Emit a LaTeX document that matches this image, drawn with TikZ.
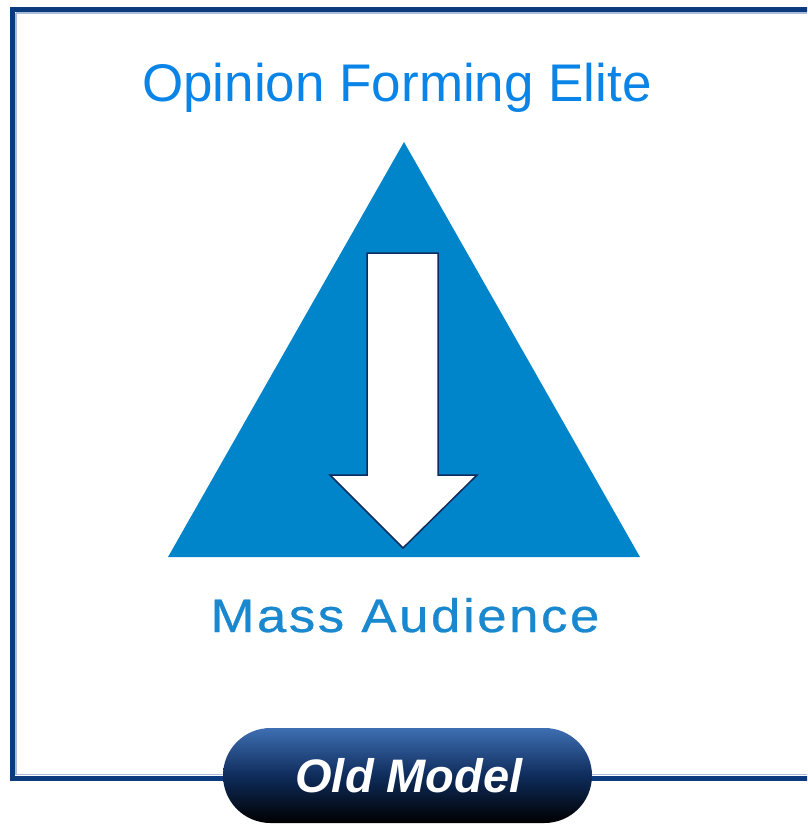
\documentclass[tikz,border=0pt]{standalone}
\usepackage{fontspec}
\setmainfont{Liberation Sans}
\newfontfamily\spacedfont[LetterSpace=5,FakeBold=0.6]{Liberation Sans}
\definecolor{framenavy}{HTML}{0B3B7E}
\definecolor{framelight}{HTML}{A9BCD8}
\definecolor{elitetext}{HTML}{0A84E6}
\definecolor{triblue}{HTML}{0084CA}
\definecolor{masstext}{HTML}{1A88CE}
\definecolor{arrowline}{HTML}{102B5E}
\definecolor{pilltop}{HTML}{3E6FB2}
\definecolor{pillmid}{HTML}{0E2C5C}
\tikzset{
  framebox/.style={draw=framenavy, line width=5pt},
  framefringe/.style={draw=framelight, line width=1.5pt},
  tribox/.style={fill=triblue, draw=none},
  arrowbox/.style={fill=white, draw=arrowline, line width=1.5pt, line join=miter},
  title/.style={text=elitetext, font=\fontsize{53}{60}\selectfont, anchor=base, inner sep=0pt},
  bottomlabel/.style={text=masstext, font=\spacedfont\fontsize{47}{52}\selectfont, anchor=base, inner sep=0pt},
  pillbox/.style={minimum width=369pt, minimum height=95pt, rounded corners=47.5pt,
    top color=pilltop, bottom color=black, middle color=pillmid,
    text=white, font=\bfseries\itshape\fontsize{47}{54}\selectfont, inner sep=0pt}
}
\begin{document}
\begin{tikzpicture}[x=1pt,y=-1pt]
\useasboundingbox (0,0) rectangle (807,824);
\begin{scope}
\clip (0,0) rectangle (807,824);
\draw[framefringe] (16,13) -- (830,13);
\draw[framefringe] (16,13) -- (16,774.5);
\draw[framefringe] (16,774.5) -- (830,774.5);
\draw[framebox] (12.5,9.5) rectangle (830,778.5);
\end{scope}
% triangle
\coordinate (apex) at (404,142);
\coordinate (bl) at (168,557);
\coordinate (br) at (640,557);
\fill[tribox] (apex) -- (bl) -- (br) -- cycle;
% arrow
\draw[arrowbox] (367,253) -- (438,253) -- (438,475) -- (477,475) -- (403,548)
  -- (330,475) -- (367,475) -- cycle;
% texts
\node[title] (elite) at (397,102) {Opinion Forming Elite};
\node[bottomlabel] (mass) at (405,632) {\scalebox{1.12}[1]{Mass Audience}};
\node[pillbox] (pill) at (407.5,775.5) {\hspace{3pt}\raisebox{-8pt}{Old Model}};
\end{tikzpicture}
\end{document}
